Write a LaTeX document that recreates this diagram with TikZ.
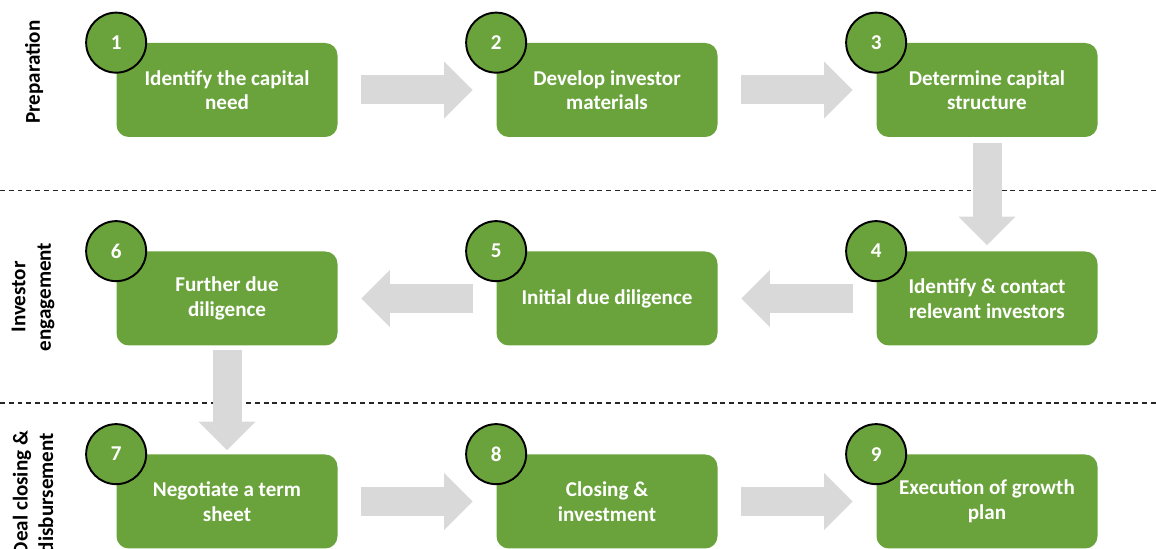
\documentclass[tikz,border=0pt]{standalone}
\usepackage{fontspec}
\setmainfont{Carlito}
\usetikzlibrary{arrows.meta, positioning}
\definecolor{cgreen}{HTML}{6AA33B}
\definecolor{cgrey}{HTML}{D9D9D9}
\definecolor{cdark}{HTML}{262626}
\tikzset{
  every picture/.style={font=\bfseries\fontsize{12}{14}\selectfont},
  stepbox/.style={fill=cgreen, rounded corners=7pt, text=white, align=center, minimum width=4.42cm, minimum height=1.88cm, inner sep=0pt},
  stepnum/.style={circle, fill=cgreen, draw=black, line width=1.1pt, minimum size=1.2cm, inner sep=0pt, text=white},
  flow/.style={draw=cgrey, line width=0.58cm, -{Triangle[length=0.57cm, width=1.14cm, line width=0pt]}, shorten <=#1, shorten >=#1},
  flow/.default=0.47cm,
  phase/.style={rotate=90, align=center, text=black, font=\bfseries\fontsize{12}{14.5}\selectfont},
  divider/.style={draw=cdark, line width=0.6pt, dash pattern=on 2.8pt off 2.2pt},
}

\begin{document}
\begin{tikzpicture}
  \useasboundingbox (0,0) rectangle (23.12,-10.98);
  % phase dividers
  \draw[divider] (0,-3.81) -- (23.12,-3.81);
  \draw[divider] (0,-8.06) -- (23.12,-8.06);
  % phase titles
  \node[phase] (p1) at (0.68,-1.44) {Preparation};
  \node[phase] (p2) at (0.66,-5.94) {Investor\\engagement};
  \node[phase] (p3) at (0.66,-9.86) {Deal closing \&\\disbursement};
  % row 1
  \node[stepbox] (b1) at (4.54,-1.8) {Identify the capital\\need};
  \node[stepbox] (b2) at (12.14,-1.8) {Develop investor\\materials};
  \node[stepbox] (b3) at (19.74,-1.8) {Determine capital\\structure};
  % row 2
  \node[stepbox] (b4) at (19.74,-5.97) {Identify \& contact\\relevant investors};
  \node[stepbox] (b5) at (12.14,-5.97) {Initial due diligence};
  \node[stepbox] (b6) at (4.54,-5.97) {Further due\\diligence};
  % row 3
  \node[stepbox] (b7) at (4.54,-10.03) {Negotiate a term\\sheet};
  \node[stepbox] (b8) at (12.14,-10.03) {Closing \&\\investment};
  \node[stepbox] (b9) at (19.74,-10.03) {Execution of growth\\plan};
  % numbers on the corners
  \foreach \i in {1,...,9}
    \node[stepnum] (n\i) at (b\i.north west) {\i};
  % flow between the steps
  \draw[flow] (b1) -- (b2);
  \draw[flow] (b2) -- (b3);
  \draw[flow=0.12cm] (b3) -- (b4);
  \draw[flow] (b4) -- (b5);
  \draw[flow] (b5) -- (b6);
  \draw[flow=0.08cm] (b6) -- (b7);
  \draw[flow] (b7) -- (b8);
  \draw[flow] (b8) -- (b9);
\end{tikzpicture}
\end{document}
